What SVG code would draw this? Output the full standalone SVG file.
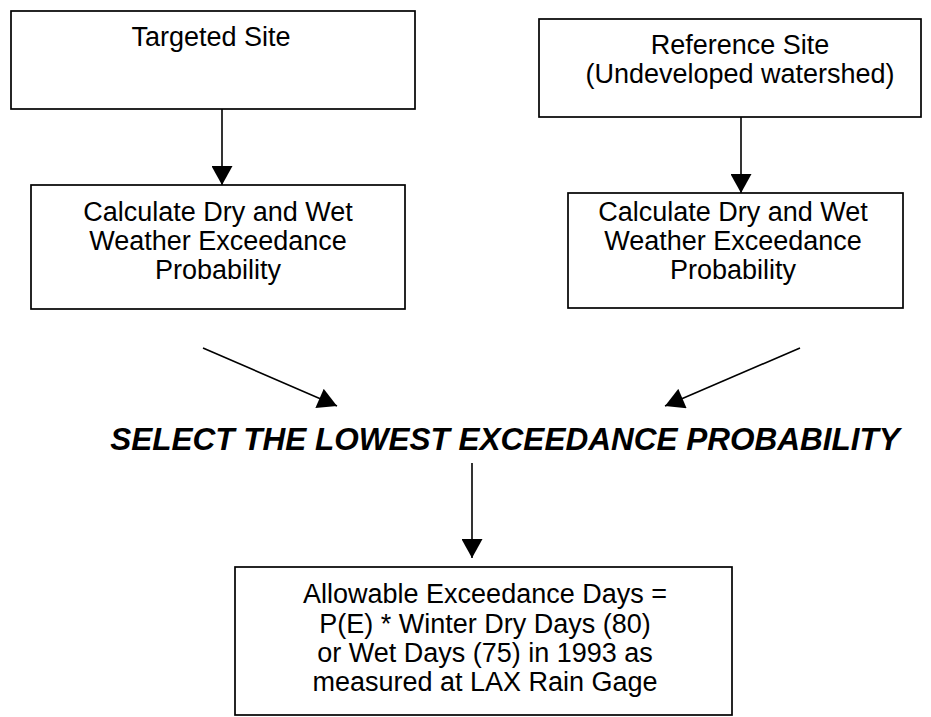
<svg xmlns="http://www.w3.org/2000/svg" width="931" height="717" viewBox="0 0 931 717">
<style>
.box{fill:#fff;stroke:#000;stroke-width:1.7}
.t{font-family:"Liberation Sans",Arial,sans-serif;font-size:27px;fill:#000;text-anchor:middle}
.title{font-family:"Liberation Sans",Arial,sans-serif;font-size:31.5px;font-weight:bold;font-style:italic;fill:#000;text-anchor:middle}
.c{stroke:#000;stroke-width:1.6;fill:none;marker-end:url(#ah)}
</style>
<defs>
<marker id="ah" markerUnits="userSpaceOnUse" markerWidth="20" markerHeight="21" viewBox="0 0 19 21" refX="19" refY="10.5" orient="auto">
<path d="M0,0 L19,10.5 L0,21 Z" fill="#000"/>
</marker>
</defs>
<rect width="931" height="717" fill="#fff"/>
<g id="targeted">
<rect class="box" x="11" y="11" width="404" height="98"/>
<text class="t" x="211" y="46">Targeted Site</text>
</g>
<g id="reference">
<rect class="box" x="539" y="19" width="382" height="98"/>
<text class="t" x="740" y="54">Reference Site</text>
<text class="t" x="740" y="83">(Undeveloped watershed)</text>
</g>
<g id="calc-left">
<rect class="box" x="31" y="185" width="374" height="124"/>
<text class="t" x="218" y="221">Calculate Dry and Wet</text>
<text class="t" x="218" y="250">Weather Exceedance</text>
<text class="t" x="218" y="279">Probability</text>
</g>
<g id="calc-right">
<rect class="box" x="568" y="193" width="335" height="115"/>
<text class="t" x="733" y="221">Calculate Dry and Wet</text>
<text class="t" x="733" y="250">Weather Exceedance</text>
<text class="t" x="733" y="279">Probability</text>
</g>
<g id="select">
<text class="title" x="505" y="450">SELECT THE LOWEST EXCEEDANCE PROBABILITY</text>
</g>
<g id="allowable">
<rect class="box" x="235" y="567" width="497" height="148"/>
<text class="t" x="485" y="603">Allowable Exceedance Days =</text>
<text class="t" x="485" y="633">P(E) * Winter Dry Days (80)</text>
<text class="t" x="485" y="662">or Wet Days (75) in 1993 as</text>
<text class="t" x="485" y="691">measured at LAX Rain Gage</text>
</g>
<g id="connectors">
<line class="c" x1="222" y1="109" x2="222" y2="185"/>
<line class="c" x1="741" y1="117" x2="741" y2="193"/>
<line class="c" x1="203" y1="348" x2="337" y2="406"/>
<line class="c" x1="800" y1="348" x2="665" y2="406"/>
<line class="c" x1="472" y1="463" x2="472" y2="558"/>
</g>
</svg>
